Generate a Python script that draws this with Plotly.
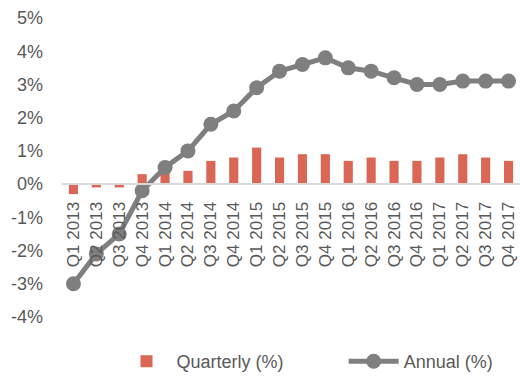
import plotly.graph_objects as go

categories = ["Q1 2013", "Q2 2013", "Q3 2013", "Q4 2013",
              "Q1 2014", "Q2 2014", "Q3 2014", "Q4 2014",
              "Q1 2015", "Q2 2015", "Q3 2015", "Q4 2015",
              "Q1 2016", "Q2 2016", "Q3 2016", "Q4 2016",
              "Q1 2017", "Q2 2017", "Q3 2017", "Q4 2017"]
quarterly = [-0.3, -0.1, -0.1, 0.3, 0.4, 0.4, 0.7, 0.8, 1.1, 0.8,
             0.9, 0.9, 0.7, 0.8, 0.7, 0.7, 0.8, 0.9, 0.8, 0.7]
annual = [-3.0, -2.1, -1.5, -0.2, 0.5, 1.0, 1.8, 2.2, 2.9, 3.4,
          3.6, 3.8, 3.5, 3.4, 3.2, 3.0, 3.0, 3.1, 3.1, 3.1]
y_ticks = [-4, -3, -2, -1, 0, 1, 2, 3, 4, 5]
y_labels = [f"{v}%" for v in y_ticks]

FONT = "Liberation Sans"
GREY_TXT = "#595959"

fig = go.Figure()
fig.add_trace(go.Bar(
    x=categories, y=quarterly, name="Quarterly (%)",
    marker=dict(color="#DA6756", line=dict(width=0)),
    legend="legend",
))
fig.add_trace(go.Scatter(
    x=categories, y=annual, name="Annual (%)", mode="lines+markers",
    line=dict(color="#7F7F7F", width=5),
    marker=dict(color="#7F7F7F", size=15),
    legend="legend2",
))

ymin, ymax = -4, 5
legend_common = dict(orientation="h", xanchor="left", y=-0.15, yanchor="middle",
                     font=dict(size=18, color=GREY_TXT), itemwidth=50,
                     bgcolor="rgba(0,0,0,0)")
fig.update_layout(
    width=520, height=380,
    margin=dict(l=62, r=0, t=18, b=60),
    paper_bgcolor="white", plot_bgcolor="white",
    font=dict(family=FONT, size=17, color=GREY_TXT),
    bargap=0.6,
    showlegend=True,
    legend=dict(x=0.119, **legend_common),
    legend2=dict(x=0.615, **legend_common),
    xaxis=dict(
        type="category", range=[-0.5, len(categories) - 0.5],
        anchor="free", position=(0 - ymin) / (ymax - ymin),
        showline=True, linecolor="#D9D9D9", linewidth=2,
        showgrid=False, zeroline=False,
        tickangle=-90, ticks="", ticklabelstandoff=10,
        tickfont=dict(size=17, color=GREY_TXT),
    ),
    yaxis=dict(
        range=[ymin, ymax], tickvals=y_ticks, ticktext=y_labels,
        showgrid=False, zeroline=False, showline=False,
        ticks="", ticklabelstandoff=18,
        tickfont=dict(size=18, color=GREY_TXT),
    ),
)

fig.write_html("out.html")
